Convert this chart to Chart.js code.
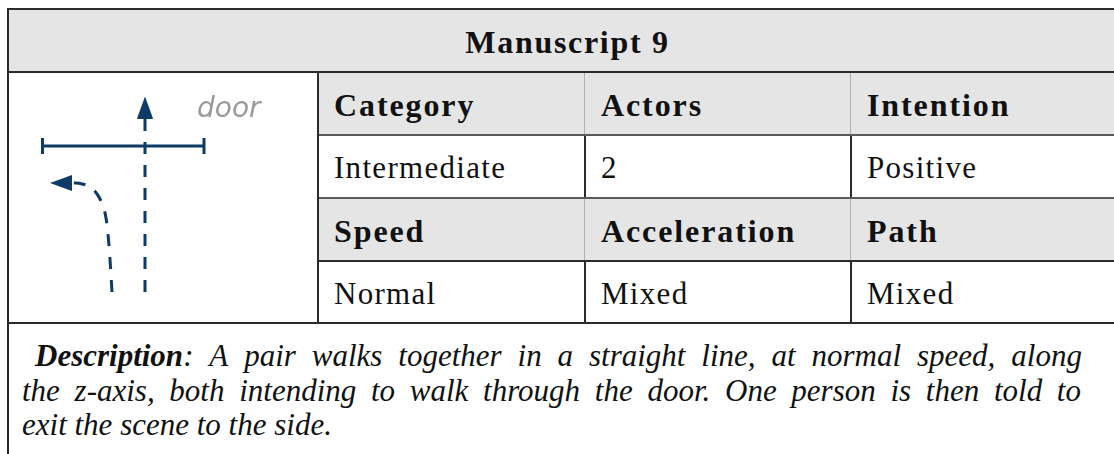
<!DOCTYPE html>
<html>
<head>
<meta charset="utf-8">
<script src="https://cdn.jsdelivr.net/npm/chart.js@4"></script>
<style>
  html, body { margin: 0; padding: 0; background: #fff; }
  body { width: 1114px; height: 454px; overflow: hidden; position: relative; }
  .rule { position: absolute; }
  .dark { background: #2b2b2b; }
  .mid { background: #5a5a5a; }
  .light { background: #b0b0b0; }
  .shade { position: absolute; background: #e5e5e5; }
  .cell {
    position: absolute; display: flex; align-items: center;
    font-family: "Liberation Serif", serif; font-size: 31px; color: #111;
    letter-spacing: 1.3px; padding-left: 17px; box-sizing: border-box; padding-top: 5px;
  }
  .cell.head { font-weight: bold; font-size: 32px; letter-spacing: 1.9px; }
  #title {
    position: absolute; left: 7px; top: 8px; width: 1121px; height: 63px;
    display: flex; align-items: center; justify-content: center; padding-top: 5px; box-sizing: border-box;
    font-family: "Liberation Serif", serif; font-weight: bold; font-size: 32px; letter-spacing: 1.7px; color: #111;
  }
  #diagram { position: absolute; left: 9px; top: 73px; width: 307px; height: 248px; }
  .dline {
    position: absolute; display: flex; justify-content: space-between; white-space: nowrap;
    font-family: "Liberation Serif", serif; font-style: italic; font-size: 31px; color: #111;
  }
  .dline b { font-weight: bold; }
</style>
</head>
<body>
<div id="title"></div>
<div id="diagram"><canvas id="plan"></canvas></div>
<script>
// table content
const title = "Manuscript 9";
const headerRows = [
  ["Category", "Actors", "Intention"],
  ["Speed", "Acceleration", "Path"],
];
const valueRows = [
  ["Intermediate", "2", "Positive"],
  ["Normal", "Mixed", "Mixed"],
];
const descLabel = "Description";
const descLines = [
  ": A pair walks together in a straight line, at normal speed, along",
  "the z-axis, both intending to walk through the door. One person is then told to",
  "exit the scene to the side.",
];

// floor plan (units: px from bottom-left corner of the picture cell)
const straightPath = [
  { x: 138, y: 30 },
  { x: 138, y: 204 },
];
const exitPath = [
  { x: 105, y: 30 },
  { x: 103.5, y: 55 },
  { x: 101.5, y: 82 },
  { x: 99, y: 104 },
  { x: 95.5, y: 117 },
  { x: 90, y: 128 },
  { x: 82, y: 135.5 },
  { x: 72, y: 138.8 },
  { x: 65, y: 139 },
];
const doorLine = [
  { x: 35.5, y: 176 },
  { x: 197, y: 176 },
];
const arrowHeads = [
  { x: 138, y: 214.5, angle: 0 },
  { x: 54, y: 139, angle: -90 },
];
const planLabels = [{ x: 190, y: 212, text: "door" }];

const navy = "#0e3a66";

// --- table layout
const colX = [317, 584, 850, 1128];
const rowY = [71, 134, 197, 260, 322];

function addRule(cls, left, top, width, height) {
  const d = document.createElement("div");
  d.className = "rule " + cls;
  Object.assign(d.style, { left: left + "px", top: top + "px", width: width + "px", height: height + "px" });
  document.body.appendChild(d);
}
function addShade(left, top, width, height) {
  const d = document.createElement("div");
  d.className = "shade";
  Object.assign(d.style, { left: left + "px", top: top + "px", width: width + "px", height: height + "px" });
  document.body.prepend(d);
}

addShade(7, 8, 1121, 63);
for (let r = 0; r < 4; r++) {
  const isHead = r % 2 === 0;
  if (isHead) addShade(colX[0], rowY[r], colX[3] - colX[0], rowY[r + 1] - rowY[r]);
  const texts = isHead ? headerRows[r / 2] : valueRows[(r - 1) / 2];
  texts.forEach((t, c) => {
    const d = document.createElement("div");
    d.className = "cell" + (isHead ? " head" : "");
    d.textContent = t;
    Object.assign(d.style, {
      left: colX[c] + "px", top: rowY[r] + "px",
      width: colX[c + 1] - colX[c] + "px", height: rowY[r + 1] - rowY[r] + "px",
    });
    document.body.appendChild(d);
  });
  // column dividers
  for (let c = 1; c < 3; c++) {
    if (isHead) addRule("light", colX[c], rowY[r], 1, rowY[r + 1] - rowY[r]);
    else addRule("dark", colX[c] - 0.5, rowY[r], 2, rowY[r + 1] - rowY[r]);
  }
}
document.getElementById("title").textContent = title;

addRule("dark", 7, 7.5, 1121, 2);
addRule("dark", 7, 70.5, 1121, 2);
addRule("mid", colX[0], 133.5, 811, 2);
addRule("mid", colX[0], 196.5, 811, 2);
addRule("dark", colX[0], 259.5, 811, 2);
addRule("dark", 7, 321.5, 1121, 2);
addRule("dark", 6.5, 8, 2, 460);
addRule("dark", 316.5, 71, 2, 251);

// description lines, justified like the typeset original
const lineBoxes = [
  { left: 35, right: 1082, top: 338, justify: true },
  { left: 22, right: 1081, top: 372.5, justify: true },
  { left: 22, right: null, top: 407, justify: false },
];
descLines.forEach((text, i) => {
  const box = lineBoxes[i];
  const d = document.createElement("div");
  d.className = "dline";
  d.style.left = box.left + "px";
  d.style.top = box.top + "px";
  if (box.right) d.style.width = box.right - box.left + "px";
  let words = text.split(" ");
  let html = words.map((w) => "<span>" + w + "</span>");
  if (i === 0) html[0] = "<span><b>" + descLabel + "</b>" + words[0] + "</span>";
  if (!box.justify) d.style.gap = "0.25em";
  d.innerHTML = html.join("");
  document.body.appendChild(d);
});

// --- arrow head sprite for the plan
const head = document.createElement("canvas");
head.width = 16;
head.height = 22;
const hc = head.getContext("2d");
hc.fillStyle = navy;
hc.beginPath();
hc.moveTo(8, 0);
hc.lineTo(16, 22);
hc.lineTo(0, 22);
hc.closePath();
hc.fill();

const labelPlugin = {
  id: "planLabels",
  afterDatasetsDraw(chart) {
    const { ctx, scales } = chart;
    ctx.save();
    ctx.font = "italic 28px 'DejaVu Sans'";
    ctx.fillStyle = "#9a9a9a";
    ctx.textBaseline = "middle";
    for (const l of planLabels) {
      ctx.fillText(l.text, scales.x.getPixelForValue(l.x), scales.y.getPixelForValue(l.y));
    }
    ctx.restore();
  },
};

new Chart(document.getElementById("plan"), {
  type: "scatter",
  plugins: [labelPlugin],
  data: {
    datasets: [
      {
        data: doorLine,
        showLine: true,
        borderColor: navy,
        borderWidth: 3,
        pointStyle: "line",
        rotation: 90,
        pointRadius: 8,
        pointBorderColor: navy,
        pointBorderWidth: 3,
        clip: false,
      },
      {
        data: straightPath,
        showLine: true,
        borderColor: navy,
        borderWidth: 3,
        borderDash: [12, 11],
        pointRadius: 0,
        clip: false,
      },
      {
        data: exitPath,
        showLine: true,
        borderColor: navy,
        borderWidth: 3,
        borderDash: [12, 11],
        tension: 0.4,
        pointRadius: 0,
        clip: false,
      },
      {
        data: arrowHeads,
        pointStyle: head,
        rotation: arrowHeads.map((a) => a.angle),
        pointRadius: 11,
        clip: false,
      },
    ],
  },
  options: {
    responsive: true,
    maintainAspectRatio: false,
    animation: false,
    events: [],
    layout: { padding: 0, autoPadding: false },
    plugins: { legend: { display: false }, tooltip: { enabled: false } },
    scales: {
      x: { type: "linear", display: false, min: 2, max: 309 },
      y: { type: "linear", display: false, min: 1, max: 249 },
    },
  },
});
</script>
</body>
</html>
